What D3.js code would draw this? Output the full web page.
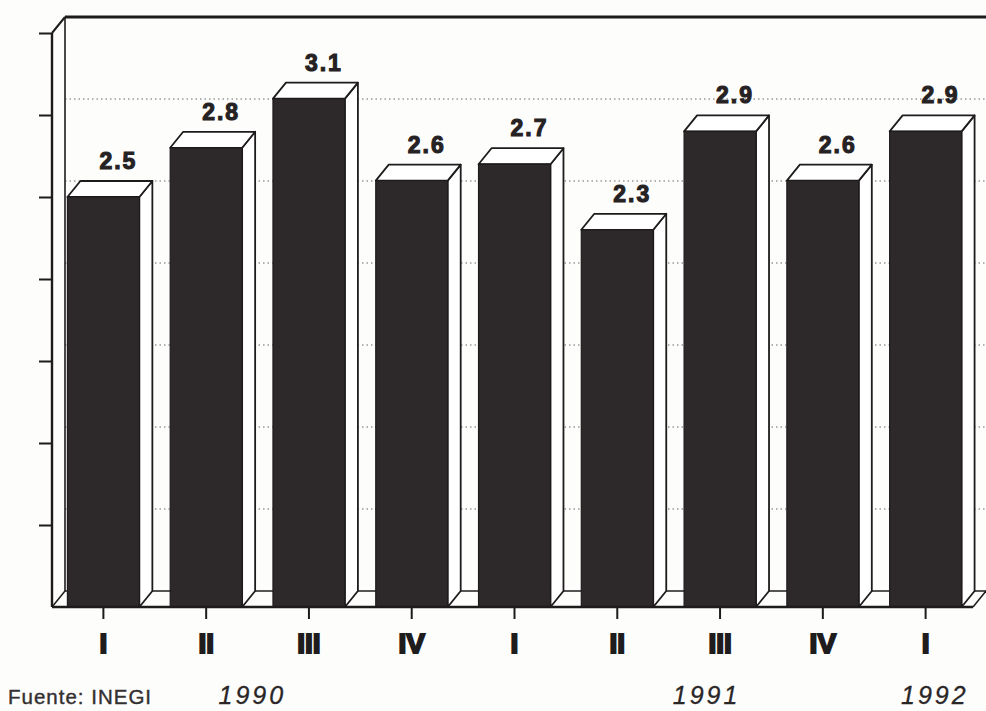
<!DOCTYPE html>
<html>
<head>
<meta charset="utf-8">
<script src="https://cdn.jsdelivr.net/npm/d3@7"></script>
<style>
  html, body { margin: 0; padding: 0; background: #fdfdfc; }
  svg { display: block; }
</style>
</head>
<body>
<svg id="chart" width="986" height="711"></svg>
<script>
// Quarterly series, 1990 I – 1992 I
const quarters = ["I", "II", "III", "IV", "I", "II", "III", "IV", "I"];
const values = [2.5, 2.8, 3.1, 2.6, 2.7, 2.3, 2.9, 2.6, 2.9];
const years = ["1990", "1991", "1992"];
const yTickValues = [0.5, 1, 1.5, 2, 2.5, 3, 3.5];
const gridValues = [0.5, 1, 1.5, 2, 2.5, 3];
const sourceNote = "Fuente: INEGI";

// Layout
const W = 986, H = 711;
const plotLeft = 52, plotRight = 977, plotTop = 33, plotBase = 607;
const depthX = 13, depthY = 16;          // 3D offset of the back wall
const yearAt = [1.43, 5.85, 8.07];       // year captions, in quarter steps from the first bar
const ink = "#1e1b1c";
const barFill = "#2d2829";

const svg = d3.select("#chart");

const x = d3.scaleBand()
  .domain(d3.range(values.length))
  .range([plotLeft, plotRight])
  .paddingInner(0.3)
  .paddingOuter(0.15);

const y = d3.scaleLinear().domain([0, 3.5]).range([plotBase, plotTop]);

const bw = x.bandwidth();
const step = x.step();
const cx = i => x(i) + bw / 2;

// Back wall gridlines (dotted)
svg.append("g")
  .selectAll("line")
  .data(gridValues)
  .join("line")
  .attr("x1", plotLeft + depthX)
  .attr("x2", W)
  .attr("y1", d => y(d) - depthY)
  .attr("y2", d => y(d) - depthY)
  .attr("stroke", "#6d6a6a")
  .attr("stroke-width", 1.2)
  .attr("stroke-dasharray", "1.5,3");

// Box frame: top edge of back wall, left wall edge and corner diagonals
const frame = svg.append("g").attr("stroke", ink).attr("fill", "none");
frame.append("line")
  .attr("x1", plotLeft + depthX).attr("x2", W)
  .attr("y1", y(3.5) - depthY).attr("y2", y(3.5) - depthY)
  .attr("stroke-width", 3);
frame.append("line")
  .attr("x1", plotLeft + depthX).attr("x2", plotLeft + depthX)
  .attr("y1", y(3.5) - depthY).attr("y2", y(0) - depthY)
  .attr("stroke-width", 1.6);
frame.append("line")
  .attr("x1", plotLeft).attr("y1", y(3.5))
  .attr("x2", plotLeft + depthX).attr("y2", y(3.5) - depthY)
  .attr("stroke-width", 2);
frame.append("line")
  .attr("x1", plotLeft).attr("y1", y(0))
  .attr("x2", plotLeft + depthX).attr("y2", y(0) - depthY)
  .attr("stroke-width", 1.6);
// back edge of the floor
frame.append("line")
  .attr("x1", plotLeft + depthX).attr("x2", W)
  .attr("y1", y(0) - depthY).attr("y2", y(0) - depthY)
  .attr("stroke-width", 1.6);
// right edge of the floor
frame.append("line")
  .attr("x1", plotRight - 4).attr("y1", y(0))
  .attr("x2", plotRight - 4 + depthX).attr("y2", y(0) - depthY)
  .attr("stroke-width", 1.6);

// 3D bars
const bars = svg.append("g").selectAll("g.bar")
  .data(values)
  .join("g")
  .attr("class", "bar");

// side face
bars.append("path")
  .attr("d", (d, i) => {
    const x1 = x(i) + bw, yt = y(d), yb = y(0);
    return `M${x1},${yt}L${x1 + depthX},${yt - depthY}L${x1 + depthX},${yb - depthY}L${x1},${yb}Z`;
  })
  .attr("fill", "#ffffff")
  .attr("stroke", ink)
  .attr("stroke-width", 1.8)
  .attr("stroke-linejoin", "round");

// top face
bars.append("path")
  .attr("d", (d, i) => {
    const x0 = x(i), x1 = x(i) + bw, yt = y(d);
    return `M${x0},${yt}L${x0 + depthX},${yt - depthY}L${x1 + depthX},${yt - depthY}L${x1},${yt}Z`;
  })
  .attr("fill", "#ffffff")
  .attr("stroke", ink)
  .attr("stroke-width", 1.8)
  .attr("stroke-linejoin", "round");

// front face
bars.append("rect")
  .attr("x", (d, i) => x(i))
  .attr("y", d => y(d))
  .attr("width", bw)
  .attr("height", d => y(0) - y(d))
  .attr("fill", barFill)
  .attr("stroke", ink)
  .attr("stroke-width", 1.2);

// value labels
bars.append("text")
  .attr("x", (d, i) => cx(i) + depthX + 2)
  .attr("y", d => y(d) - depthY - 12)
  .attr("text-anchor", "middle")
  .attr("font-family", "'Liberation Sans', Arial, sans-serif")
  .attr("font-weight", "bold")
  .attr("font-size", 23)
  .attr("letter-spacing", 2)
  .attr("fill", "#262223")
  .attr("stroke", "#262223")
  .attr("stroke-width", 1.1)
  .text(d => d3.format(".1f")(d));

// Left value axis (ticks only)
const yAxis = svg.append("g")
  .attr("transform", `translate(${plotLeft},0)`)
  .call(d3.axisLeft(y).tickValues(yTickValues).tickSize(13).tickSizeOuter(0).tickFormat(""));
yAxis.select(".domain").remove();
yAxis.selectAll(".tick line").attr("stroke", ink).attr("stroke-width", 2);
svg.append("line")
  .attr("x1", plotLeft).attr("x2", plotLeft)
  .attr("y1", y(3.5)).attr("y2", y(0))
  .attr("stroke", ink).attr("stroke-width", 2.4);

// Bottom category axis
const xAxis = svg.append("g")
  .attr("transform", `translate(0,${plotBase})`)
  .call(d3.axisBottom(x).tickSize(12).tickPadding(14).tickSizeOuter(0).tickFormat(i => quarters[i]));
xAxis.select(".domain")
  .attr("d", `M${plotLeft},0H${plotRight - 4}`)
  .attr("stroke", ink).attr("stroke-width", 2.4);
xAxis.selectAll(".tick line").attr("stroke", ink).attr("stroke-width", 2);
xAxis.selectAll(".tick text")
  .attr("font-family", "'Liberation Sans', Arial, sans-serif")
  .attr("font-weight", "bold")
  .attr("font-size", 28)
  .attr("fill", "#1f1c1d")
  .attr("stroke", "#1f1c1d")
  .attr("stroke-width", 2);

// Year captions
svg.append("g").selectAll("text")
  .data(years)
  .join("text")
  .attr("x", (d, i) => cx(0) + yearAt[i] * step + 2)
  .attr("y", 704)
  .attr("text-anchor", "middle")
  .attr("font-family", "'Liberation Sans', Arial, sans-serif")
  .attr("font-style", "italic")
  .attr("font-size", 25)
  .attr("letter-spacing", 3)
  .attr("fill", "#2a2627")
  .attr("stroke", "#2a2627")
  .attr("stroke-width", 0.3)
  .text(d => d);

// Source note
svg.append("text")
  .attr("x", 8)
  .attr("y", 704)
  .attr("font-family", "'Liberation Sans', Arial, sans-serif")
  .attr("font-size", 20.5)
  .attr("letter-spacing", 1)
  .attr("fill", "#333031")
  .attr("stroke", "#333031")
  .attr("stroke-width", 0.4)
  .text(sourceNote);
</script>
</body>
</html>
